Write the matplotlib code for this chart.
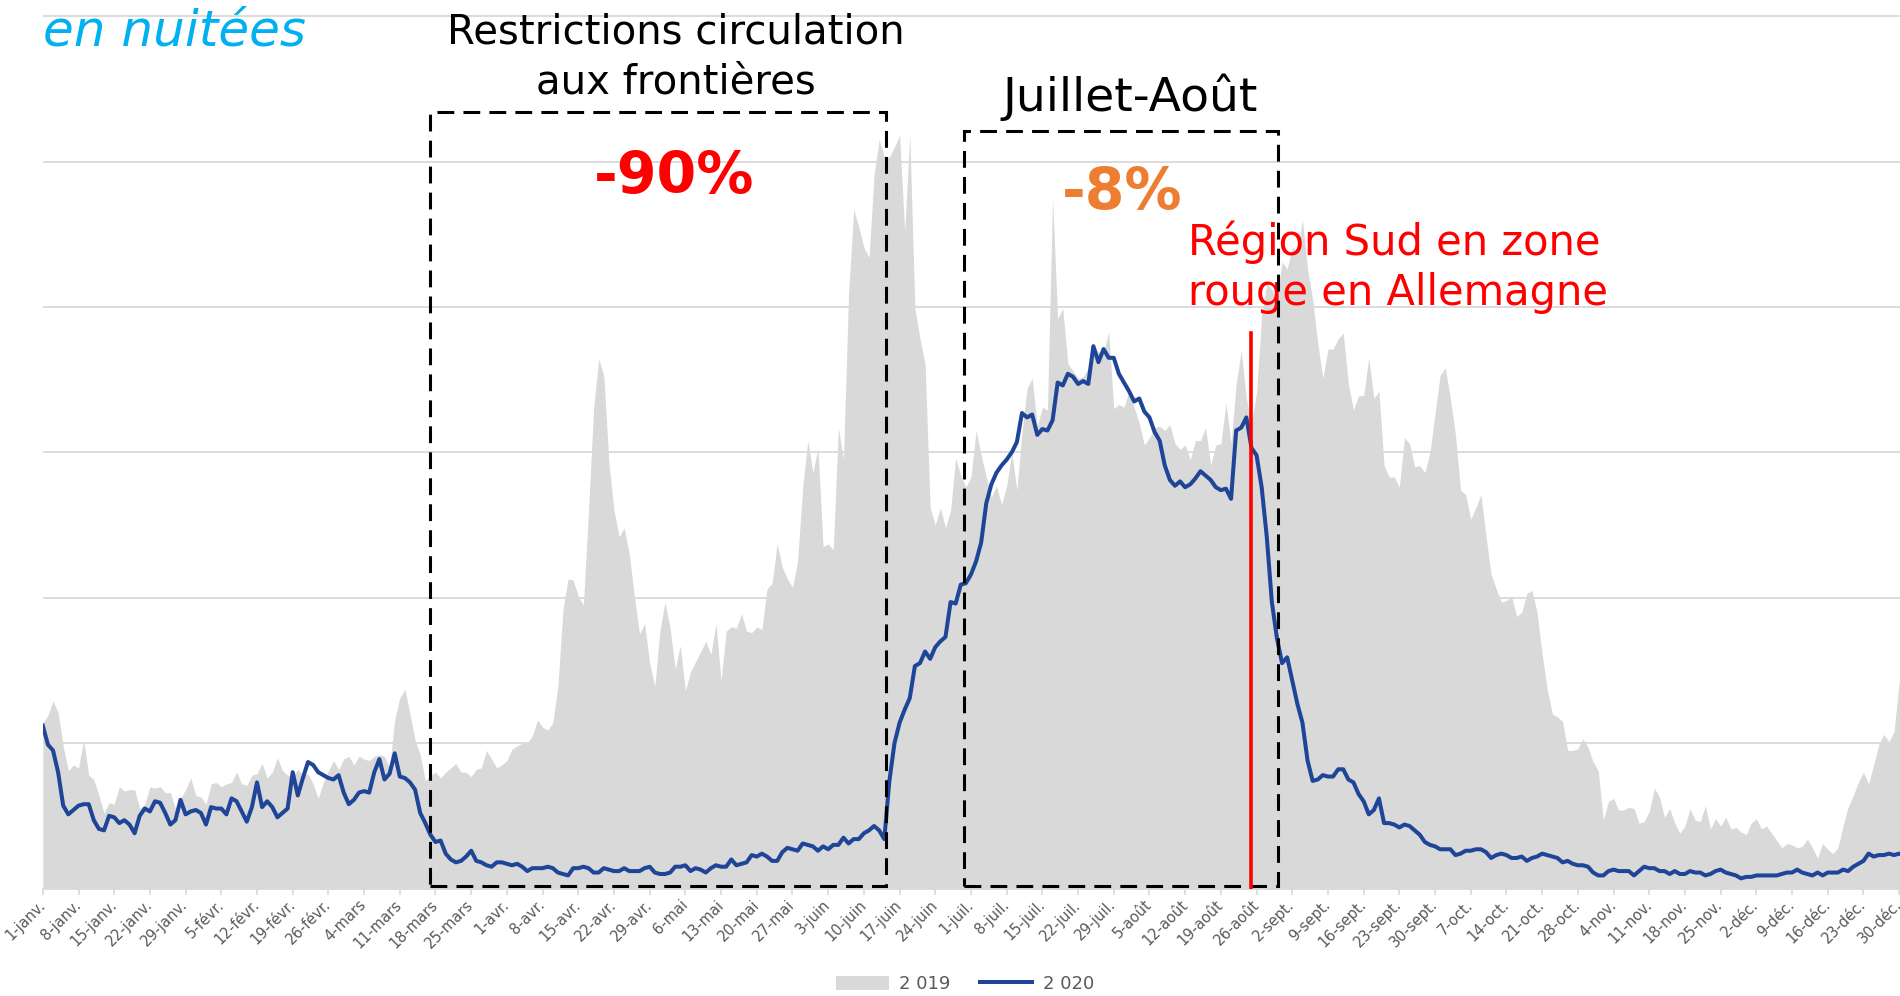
"""Nuitées 2019 vs 2020, comparaison journalière (recréation du graphique)."""
import numpy as np
import matplotlib
matplotlib.use("Agg")
import matplotlib.pyplot as plt
from matplotlib.patches import Rectangle, Patch
from matplotlib.lines import Line2D

plt.rcParams['font.family'] = ['DejaVu Sans']

# valeurs journalières (unité = un intervalle de grille)
nuitees_2019 = [
    1.14, 1.19, 1.29, 1.21, 0.98, 0.81, 0.85, 0.83, 1.02, 0.78,
    0.75, 0.64, 0.52, 0.59, 0.58, 0.70, 0.67, 0.68, 0.68, 0.55,
    0.58, 0.70, 0.69, 0.70, 0.66, 0.66, 0.55, 0.62, 0.68, 0.76,
    0.64, 0.63, 0.58, 0.72, 0.73, 0.70, 0.72, 0.73, 0.80, 0.72,
    0.71, 0.78, 0.79, 0.86, 0.76, 0.80, 0.90, 0.81, 0.78, 0.77,
    0.82, 0.78, 0.79, 0.72, 0.62, 0.73, 0.81, 0.88, 0.82, 0.89,
    0.91, 0.85, 0.91, 0.89, 0.88, 0.91, 0.92, 0.91, 0.83, 1.16,
    1.31, 1.37, 1.20, 1.02, 0.92, 0.74, 0.78, 0.80, 0.76, 0.80,
    0.83, 0.86, 0.80, 0.80, 0.77, 0.82, 0.83, 0.95, 0.89, 0.83,
    0.85, 0.88, 0.96, 0.98, 1.00, 1.00, 1.05, 1.16, 1.11, 1.09,
    1.14, 1.39, 1.92, 2.13, 2.12, 2.01, 1.95, 2.59, 3.30, 3.64,
    3.53, 2.93, 2.60, 2.42, 2.48, 2.30, 2.01, 1.75, 1.82, 1.55,
    1.39, 1.77, 1.97, 1.79, 1.51, 1.67, 1.36, 1.49, 1.56, 1.63,
    1.70, 1.61, 1.82, 1.43, 1.77, 1.80, 1.79, 1.89, 1.77, 1.76,
    1.80, 1.78, 2.06, 2.10, 2.37, 2.21, 2.13, 2.07, 2.25, 2.76,
    3.08, 2.86, 3.03, 2.35, 2.37, 2.33, 3.17, 2.95, 4.09, 4.67,
    4.55, 4.41, 4.34, 4.91, 5.15, 5.03, 5.03, 5.10, 5.18, 4.52,
    5.18, 3.99, 3.78, 3.61, 2.62, 2.50, 2.62, 2.48, 2.60, 2.96,
    2.84, 2.76, 2.83, 3.15, 2.98, 2.83, 2.69, 2.77, 2.64, 2.77,
    3.00, 2.74, 3.14, 3.44, 3.51, 3.18, 3.31, 3.29, 4.75, 3.92,
    3.99, 3.61, 3.56, 3.51, 3.52, 3.58, 3.73, 3.69, 3.68, 3.83,
    3.30, 3.33, 3.31, 3.42, 3.31, 3.20, 3.05, 3.10, 3.17, 3.18,
    3.15, 3.19, 3.06, 3.02, 3.05, 2.95, 3.08, 3.08, 3.17, 2.91,
    3.05, 3.06, 3.34, 3.06, 3.47, 3.70, 3.37, 3.20, 3.41, 3.94,
    4.16, 4.12, 4.05, 4.31, 4.26, 4.41, 4.38, 4.60, 4.26, 4.05,
    3.75, 3.51, 3.71, 3.71, 3.78, 3.82, 3.47, 3.29, 3.39, 3.39,
    3.65, 3.37, 3.42, 2.91, 2.83, 2.83, 2.76, 3.10, 3.06, 2.90,
    2.91, 2.86, 3.00, 3.27, 3.53, 3.58, 3.37, 3.12, 2.74, 2.71,
    2.54, 2.62, 2.71, 2.42, 2.16, 2.06, 1.97, 1.98, 2.01, 1.87,
    1.90, 2.03, 2.05, 1.90, 1.61, 1.37, 1.20, 1.18, 1.15, 0.95,
    0.95, 0.96, 1.03, 0.97, 0.87, 0.81, 0.47, 0.60, 0.62, 0.54,
    0.54, 0.56, 0.55, 0.45, 0.46, 0.53, 0.69, 0.63, 0.49, 0.55,
    0.45, 0.38, 0.43, 0.55, 0.47, 0.46, 0.57, 0.41, 0.48, 0.43,
    0.49, 0.41, 0.42, 0.39, 0.37, 0.45, 0.48, 0.41, 0.43, 0.38,
    0.33, 0.28, 0.31, 0.30, 0.28, 0.29, 0.34, 0.28, 0.21, 0.31,
    0.27, 0.24, 0.28, 0.43, 0.56, 0.64, 0.73, 0.80, 0.72, 0.85,
    0.99, 1.06, 1.01, 1.08, 1.42, 1.50,
]

nuitees_2020 = [
    1.12, 0.99, 0.95, 0.80, 0.57, 0.51, 0.54, 0.57, 0.58, 0.58,
    0.47, 0.41, 0.40, 0.50, 0.49, 0.45, 0.47, 0.44, 0.38, 0.50,
    0.55, 0.53, 0.60, 0.59, 0.52, 0.44, 0.47, 0.61, 0.51, 0.53,
    0.54, 0.52, 0.44, 0.56, 0.55, 0.55, 0.51, 0.62, 0.60, 0.53,
    0.46, 0.56, 0.73, 0.56, 0.60, 0.56, 0.49, 0.52, 0.55, 0.80,
    0.64, 0.76, 0.87, 0.85, 0.80, 0.78, 0.76, 0.75, 0.78, 0.66,
    0.58, 0.61, 0.66, 0.67, 0.66, 0.80, 0.89, 0.75, 0.79, 0.93,
    0.77, 0.76, 0.73, 0.68, 0.52, 0.45, 0.37, 0.32, 0.33, 0.24,
    0.20, 0.18, 0.19, 0.22, 0.26, 0.19, 0.18, 0.16, 0.15, 0.18,
    0.18, 0.17, 0.16, 0.17, 0.15, 0.12, 0.14, 0.14, 0.14, 0.15,
    0.14, 0.11, 0.10, 0.09, 0.14, 0.14, 0.15, 0.14, 0.11, 0.11,
    0.14, 0.13, 0.12, 0.12, 0.14, 0.12, 0.12, 0.12, 0.14, 0.15,
    0.11, 0.10, 0.10, 0.11, 0.15, 0.15, 0.16, 0.12, 0.14, 0.13,
    0.11, 0.14, 0.16, 0.15, 0.15, 0.20, 0.16, 0.17, 0.18, 0.23,
    0.22, 0.24, 0.22, 0.19, 0.19, 0.25, 0.28, 0.27, 0.26, 0.31,
    0.30, 0.29, 0.26, 0.29, 0.27, 0.30, 0.30, 0.35, 0.31, 0.34,
    0.34, 0.38, 0.40, 0.43, 0.40, 0.34, 0.74, 1.00, 1.14, 1.23,
    1.31, 1.53, 1.55, 1.63, 1.58, 1.66, 1.70, 1.73, 1.97, 1.96,
    2.09, 2.10, 2.16, 2.25, 2.38, 2.65, 2.78, 2.86, 2.91, 2.95,
    3.00, 3.07, 3.27, 3.24, 3.26, 3.12, 3.16, 3.15, 3.22, 3.48,
    3.46, 3.54, 3.52, 3.47, 3.49, 3.47, 3.73, 3.62, 3.71, 3.65,
    3.65, 3.54, 3.48, 3.42, 3.35, 3.37, 3.28, 3.24, 3.14, 3.08,
    2.91, 2.81, 2.77, 2.80, 2.76, 2.78, 2.82, 2.87, 2.84, 2.81,
    2.76, 2.74, 2.75, 2.68, 3.15, 3.17, 3.24, 3.03, 2.98, 2.76,
    2.42, 1.97, 1.72, 1.55, 1.59, 1.43, 1.27, 1.14, 0.88, 0.74,
    0.75, 0.78, 0.77, 0.77, 0.82, 0.82, 0.75, 0.73, 0.65, 0.60,
    0.51, 0.54, 0.62, 0.45, 0.45, 0.44, 0.42, 0.44, 0.43, 0.40,
    0.37, 0.32, 0.30, 0.29, 0.27, 0.27, 0.27, 0.23, 0.24, 0.26,
    0.26, 0.27, 0.27, 0.25, 0.21, 0.23, 0.24, 0.23, 0.21, 0.21,
    0.22, 0.19, 0.21, 0.22, 0.24, 0.23, 0.22, 0.21, 0.18, 0.19,
    0.17, 0.16, 0.16, 0.15, 0.11, 0.09, 0.09, 0.12, 0.13, 0.12,
    0.12, 0.12, 0.09, 0.12, 0.15, 0.14, 0.14, 0.12, 0.12, 0.10,
    0.12, 0.10, 0.10, 0.12, 0.11, 0.11, 0.09, 0.10, 0.12, 0.13,
    0.11, 0.10, 0.09, 0.07, 0.08, 0.08, 0.09, 0.09, 0.09, 0.09,
    0.09, 0.10, 0.11, 0.11, 0.13, 0.11, 0.10, 0.09, 0.11, 0.09,
    0.11, 0.11, 0.11, 0.13, 0.12, 0.15, 0.17, 0.19, 0.24, 0.22,
    0.23, 0.23, 0.24, 0.23, 0.24, 0.23,
]

tick_labels = [
    "1-janv.", "8-janv.", "15-janv.", "22-janv.", "29-janv.",
    "5-févr.", "12-févr.", "19-févr.", "26-févr.",
    "4-mars", "11-mars", "18-mars", "25-mars",
    "1-avr.", "8-avr.", "15-avr.", "22-avr.", "29-avr.",
    "6-mai", "13-mai", "20-mai", "27-mai",
    "3-juin", "10-juin", "17-juin", "24-juin",
    "1-juil.", "8-juil.", "15-juil.", "22-juil.", "29-juil.",
    "5-août", "12-août", "19-août", "26-août",
    "2-sept.", "9-sept.", "16-sept.", "23-sept.", "30-sept.",
    "7-oct.", "14-oct.", "21-oct.", "28-oct.",
    "4-nov.", "11-nov.", "18-nov.", "25-nov.",
    "2-déc.", "9-déc.", "16-déc.", "23-déc.", "30-déc.",
]

# périodes encadrées (jour de début, jour de fin)
restrictions = (75.9, 165.3)
juillet_aout = (180.7, 242.3)
zone_rouge_day = 237

GRAY = "#D9D9D9"
BLUE = "#1E4597"
TXT = "#595959"

days = np.arange(len(nuitees_2019))

fig = plt.figure(figsize=(19, 9.96), dpi=100)
ax = fig.add_axes([0.02253, 0.1079, 0.9797, 0.892])

ax.fill_between(days, nuitees_2019, 0, color=GRAY, lw=0, zorder=2)
ax.plot(np.arange(len(nuitees_2020)), nuitees_2020, color=BLUE, lw=2.9,
        solid_joinstyle="round", zorder=3)

ax.set_xlim(0, 365)
ax.set_ylim(0, 6.11)
ax.set_yticks([1, 2, 3, 4, 5, 6])
ax.yaxis.grid(True, color=GRAY, lw=1.3, zorder=0)
ax.set_axisbelow(True)
ax.tick_params(axis="y", left=False, labelleft=False)
for s in ["top", "right", "left"]:
    ax.spines[s].set_visible(False)
ax.spines["bottom"].set_color(GRAY)
ax.spines["bottom"].set_linewidth(1.3)

ax.set_xticks(np.arange(0, 365, 7))
ax.set_xticklabels(tick_labels, rotation=45, ha="right", va="center",
                   rotation_mode="anchor", fontsize=10.5, color=TXT)
ax.tick_params(axis="x", length=4, width=1.2, color=GRAY, pad=6)

# cadres pointillés
box_kw = dict(fill=False, ec="black", lw=2.2, ls=(0, (5.5, 3)),
              zorder=5, clip_on=False)
ax.add_patch(Rectangle((restrictions[0], 0.02), restrictions[1] - restrictions[0],
                       5.34 - 0.02, **box_kw))
ax.add_patch(Rectangle((juillet_aout[0], 0.02), juillet_aout[1] - juillet_aout[0],
                       5.21 - 0.02, **box_kw))
ax.plot([zone_rouge_day, zone_rouge_day], [0, 3.82], color="#FF0000", lw=2.6,
        zorder=6)

# textes
ax.text(0, 5.80, "en nuitées", color="#00B0F0", fontsize=36, style="italic",
        ha="left", va="baseline")
ax.text(124.2, 5.81, "Restrictions circulation", fontsize=29, ha="center",
        va="baseline")
ax.text(124.2, 5.47, "aux frontières", fontsize=29, ha="center", va="baseline")
ax.text(123.8, 4.78, "-90%", fontsize=41, fontweight="bold", color="#FF0000",
        ha="center", va="baseline")
ax.text(213.2, 5.35, "Juillet-Août", fontsize=34, ha="center", va="baseline")
ax.text(211.6, 4.67, "-8%", fontsize=41, fontweight="bold", color="#ED7D31",
        ha="center", va="baseline")
ax.text(224.5, 4.36, "Région Sud en zone", fontsize=30, color="#FF0000",
        ha="left", va="baseline")
ax.text(224.5, 4.01, "rouge en Allemagne", fontsize=30, color="#FF0000",
        ha="left", va="baseline")

handles = [Patch(facecolor=GRAY, edgecolor="none"),
           Line2D([], [], color=BLUE, lw=2.9)]
fig.legend(handles, ["2 019", "2 020"], loc="center", bbox_to_anchor=(0.508, 0.012),
           ncol=2, frameon=False, fontsize=13, labelcolor=TXT,
           handlelength=2.9, handletextpad=0.6, columnspacing=1.6,
           handleheight=0.8)

fig.savefig("out.png", dpi=100)
